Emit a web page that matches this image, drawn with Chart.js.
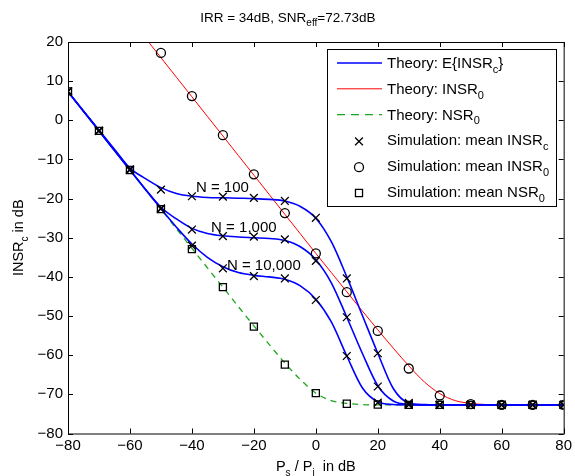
<!DOCTYPE html>
<html>
<head>
<meta charset="utf-8">
<script src="https://cdn.jsdelivr.net/npm/chart.js@4.4.1/dist/chart.umd.min.js"></script>
<style>
  html, body { margin: 0; padding: 0; background: #fff; }
</style>
</head>
<body>
<canvas id="grafico" width="575" height="476"></canvas>
<script>
// ---- data ----
const xTicks = [-80, -60, -40, -20, 0, 20, 40, 60, 80];
const yTicks = [-80, -70, -60, -50, -40, -30, -20, -10, 0, 10, 20];

// theory curves, every 5 dB
const xTheory = [-80, -75, -70, -65, -60, -55, -50, -45, -40, -35, -30, -25, -20, -15, -10, -5, 0,
                 5, 10, 15, 20, 25, 30, 35, 40, 45, 50, 55, 60, 65, 70, 75, 80];
const theoryN100 = [7.3, 2.4, -2.5, -7.4, -12.2, -14.9, -17.2, -18.7, -19.4, -19.7, -19.8, -19.9, -20.0, -20.2, -20.6, -22.0, -25.0,
                    -31.0, -40.0, -49.8, -59.5, -68.5, -72.2, -72.6, -72.7, -72.7, -72.7, -72.7, -72.7, -72.7, -72.7, -72.7, -72.7];
const theoryN1000 = [7.3, 2.3, -2.7, -7.7, -12.7, -17.6, -22.2, -25.2, -27.6, -28.9, -29.5, -29.8, -30.0, -30.2, -30.7, -32.3, -35.6,
                     -41.5, -50.3, -59.5, -67.8, -71.7, -72.6, -72.7, -72.7, -72.7, -72.7, -72.7, -72.7, -72.7, -72.7, -72.7, -72.7];
const theoryN10000 = [7.3, 2.3, -2.7, -7.7, -12.7, -17.7, -22.6, -27.3, -31.6, -35.0, -37.4, -38.9, -39.6, -40.0, -40.6, -42.3, -45.7,
                      -51.5, -60.2, -68.3, -71.9, -72.6, -72.7, -72.7, -72.7, -72.7, -72.7, -72.7, -72.7, -72.7, -72.7, -72.7, -72.7];
const theoryINSR0 = [46, 41, 36, 31, 26, 21, 16, 11, 6, 1, -4, -9, -14, -19, -24, -29, -34,
                     -38.9, -43.8, -48.7, -53.5, -58.2, -62.7, -66.8, -69.8, -71.6, -72.3, -72.6, -72.7, -72.7, -72.7, -72.7, -72.7];
const theoryNSR0 = [7.3, 2.3, -2.7, -7.7, -12.7, -17.7, -22.7, -27.7, -32.7, -37.7, -42.6, -47.6, -52.5, -57.3, -62.0, -66.2, -69.7,
                    -71.6, -72.3, -72.6, -72.7, -72.7, -72.7, -72.7, -72.7, -72.7, -72.7, -72.7, -72.7, -72.7, -72.7, -72.7, -72.7];

// simulation points, every 10 dB
const xSim = [-80, -70, -60, -50, -40, -30, -20, -10, 0, 10, 20, 30, 40, 50, 60, 70, 80];
const simN100 = [7.4, -2.7, -12.5, -17.7, -19.4, -19.5, -19.8, -20.6, -24.9, -40.4, -59.5, -72.2, -72.7, -72.7, -72.7, -72.7, -72.7];
const simN1000 = [7.4, -2.7, -12.7, -22.5, -27.9, -29.6, -29.7, -30.4, -35.9, -50.3, -68.0, -72.5, -72.7, -72.7, -72.7, -72.7, -72.7];
const simN10000 = [7.4, -2.7, -12.7, -22.6, -32.0, -37.8, -39.8, -40.4, -45.9, -60.2, -72.1, -72.7, -72.7, -72.7, -72.7, -72.7, -72.7];
const simINSR0 = [null, null, null, 17.2, 6.2, -3.8, -13.8, -23.7, -34.0, -43.9, -53.8, -63.4, -70.3, -72.5, -72.7, -72.7, -72.7];
const simNSR0 = [7.4, -2.7, -12.7, -22.7, -32.9, -42.6, -52.7, -62.4, -69.7, -72.4, -72.6, -72.7, -72.7, -72.7, -72.7, -72.7, -72.7];

// curve labels (data coordinates)
const curveLabels = [
  { text: "N = 100", x: -38.7, y: -17.1 },
  { text: "N = 1,000", x: -33.8, y: -27.3 },
  { text: "N = 10,000", x: -28.7, y: -37.0 }
];

const FONT = '"Liberation Sans", Arial, Helvetica, sans-serif';
const BLUE = "#0000ff", RED = "#ff0000", GREEN = "#1aa81a";

function pares(xs, ys) {
  return xs.map((x, i) => ({ x: x, y: ys[i] }));
}
function minus(v) {
  return String(v).replace("-", "\u2212");
}

// split "INSR_c" / "SNR_{eff}" into normal and subscript pieces
function partes(txt) {
  const out = [];
  const re = /_\{([^}]*)\}|_(.)/g;
  let last = 0, m;
  while ((m = re.exec(txt)) !== null) {
    if (m.index > last) out.push({ t: txt.slice(last, m.index), sub: false });
    out.push({ t: m[1] !== undefined ? m[1] : m[2], sub: true });
    last = re.lastIndex;
  }
  if (last < txt.length) out.push({ t: txt.slice(last), sub: false });
  return out;
}

function textoRico(ctx, txt, x, y, size, align) {
  const ps = partes(txt);
  const subSize = Math.round(size * 0.72);
  let w = 0;
  ps.forEach(p => {
    ctx.font = (p.sub ? subSize : size) + "px " + FONT;
    p.w = ctx.measureText(p.t).width;
    w += p.w;
  });
  let cx = align === "center" ? x - w / 2 : x;
  ps.forEach(p => {
    ctx.font = (p.sub ? subSize : size) + "px " + FONT;
    ctx.fillText(p.t, cx, p.sub ? y + size * 0.32 : y);
    cx += p.w;
  });
}

const serieLinha = (label, xs, ys, color, width, dash, ord) => ({
  label: label,
  data: pares(xs, ys),
  borderColor: color,
  borderWidth: width,
  borderDash: dash,
  pointRadius: 0,
  fill: false,
  cubicInterpolationMode: "monotone",
  order: ord
});
const serieMarca = (label, ys, style, radius) => ({
  label: label,
  data: pares(xSim, ys),
  showLine: false,
  pointStyle: style,
  pointRadius: radius,
  pointBorderColor: "#000",
  pointBackgroundColor: "rgba(0,0,0,0)",
  pointBorderWidth: 1.3,
  order: 0
});

const legendaItens = [
  { text: "Theory: E{INSR_c}", line: BLUE, width: 1.6 },
  { text: "Theory: INSR_0", line: RED, width: 1 },
  { text: "Theory: NSR_0", line: GREEN, width: 1.3, dash: [8, 6] },
  { text: "Simulation: mean INSR_c", point: "crossRot", radius: 5.5 },
  { text: "Simulation: mean INSR_0", point: "circle", radius: 4.5 },
  { text: "Simulation: mean NSR_0", point: "rect", radius: 5 }
];

const moldura = {
  id: "moldura",
  afterDraw(chart) {
    const ctx = chart.ctx;
    const a = chart.chartArea;
    const sx = chart.scales.x, sy = chart.scales.y;
    ctx.save();

    // box and inward ticks
    ctx.strokeStyle = "#000";
    ctx.lineWidth = 1;
    ctx.strokeRect(a.left + 0.5, a.top + 0.5, a.right - a.left, a.bottom - a.top);
    ctx.beginPath();
    xTicks.forEach(v => {
      const px = Math.round(sx.getPixelForValue(v)) + 0.5;
      ctx.moveTo(px, a.bottom); ctx.lineTo(px, a.bottom - 5);
      ctx.moveTo(px, a.top); ctx.lineTo(px, a.top + 5);
    });
    yTicks.forEach(v => {
      const py = Math.round(sy.getPixelForValue(v)) + 0.5;
      ctx.moveTo(a.left, py); ctx.lineTo(a.left + 5, py);
      ctx.moveTo(a.right, py); ctx.lineTo(a.right - 5, py);
    });
    ctx.stroke();

    ctx.fillStyle = "#000";
    ctx.textBaseline = "alphabetic";

    // curve labels
    curveLabels.forEach(l => {
      ctx.font = "15px " + FONT;
      ctx.fillText(l.text, sx.getPixelForValue(l.x), sy.getPixelForValue(l.y) + 5);
    });

    // title
    textoRico(ctx, "IRR = 34dB, SNR_{eff}=72.73dB", (a.left + a.right) / 2 - 28, 22, 13.5, "center");

    // axis titles
    textoRico(ctx, "P_s / P_i  in dB", (a.left + a.right) / 2, 471, 14.5, "center");
    ctx.save();
    ctx.translate(23, (a.top + a.bottom) / 2);
    ctx.rotate(-Math.PI / 2);
    textoRico(ctx, "INSR_c in dB", 0, 0, 14.5, "center");
    ctx.restore();

    // legend
    const lx = 327.5, ly = 49.5, lw = 229, lh = 157;
    ctx.fillStyle = "#fff";
    ctx.fillRect(lx, ly, lw, lh);
    ctx.strokeStyle = "#000";
    ctx.lineWidth = 1;
    ctx.strokeRect(lx, ly, lw, lh);
    legendaItens.forEach((it, i) => {
      const yy = 63 + i * 25.8;
      if (it.line) {
        ctx.save();
        ctx.strokeStyle = it.line;
        ctx.lineWidth = it.width;
        ctx.setLineDash(it.dash || []);
        ctx.beginPath();
        ctx.moveTo(337, yy); ctx.lineTo(382, yy);
        ctx.stroke();
        ctx.restore();
      } else {
        ctx.save();
        ctx.strokeStyle = "#000";
        ctx.fillStyle = "rgba(0,0,0,0)";
        ctx.lineWidth = 1.3;
        Chart.helpers.drawPoint(ctx, { pointStyle: it.point, radius: it.radius, rotation: 0, borderWidth: 1.3 }, 359, yy + 1);
        ctx.restore();
      }
      ctx.fillStyle = "#000";
      textoRico(ctx, it.text, 387, yy + 5, 15, "left");
    });
    ctx.restore();
  }
};

const ctx = document.getElementById("grafico").getContext("2d");
new Chart(ctx, {
  type: "line",
  data: {
    datasets: [
      serieMarca("Simulation: mean INSRc (N=100)", simN100, "crossRot", 5.5),
      serieMarca("Simulation: mean INSRc (N=1000)", simN1000, "crossRot", 5.5),
      serieMarca("Simulation: mean INSRc (N=10000)", simN10000, "crossRot", 5.5),
      serieMarca("Simulation: mean INSR0", simINSR0, "circle", 4.5),
      serieMarca("Simulation: mean NSR0", simNSR0, "rect", 5),
      serieLinha("Theory: E{INSRc} N=100", xTheory, theoryN100, BLUE, 1.6, [], 1),
      serieLinha("Theory: E{INSRc} N=1000", xTheory, theoryN1000, BLUE, 1.6, [], 1),
      serieLinha("Theory: E{INSRc} N=10000", xTheory, theoryN10000, BLUE, 1.6, [], 1),
      serieLinha("Theory: INSR0", xTheory, theoryINSR0, RED, 1, [], 2),
      serieLinha("Theory: NSR0", xTheory, theoryNSR0, GREEN, 1.3, [6, 5], 3)
    ]
  },
  options: {
    responsive: false,
    animation: false,
    layout: { padding: { top: 42, right: 9, left: 0, bottom: 0 } },
    plugins: {
      legend: { display: false },
      title: { display: false },
      tooltip: { enabled: false }
    },
    scales: {
      x: {
        type: "linear",
        min: -80,
        max: 80,
        afterBuildTicks: s => { s.ticks = xTicks.map(v => ({ value: v })); },
        afterFit: s => { s.height = 42.5; },
        ticks: {
          color: "#000",
          padding: 3,
          maxRotation: 0,
          autoSkip: false,
          font: { family: FONT, size: 15 },
          callback: v => minus(v)
        },
        grid: { display: false, drawTicks: false },
        border: { display: false }
      },
      y: {
        type: "linear",
        min: -80,
        max: 20,
        afterBuildTicks: s => { s.ticks = yTicks.map(v => ({ value: v })); },
        afterFit: s => { s.width = 68; },
        ticks: {
          color: "#000",
          padding: 5,
          autoSkip: false,
          font: { family: FONT, size: 15 },
          callback: v => minus(v)
        },
        grid: { display: false, drawTicks: false },
        border: { display: false }
      }
    }
  },
  plugins: [moldura]
});
</script>
</body>
</html>
